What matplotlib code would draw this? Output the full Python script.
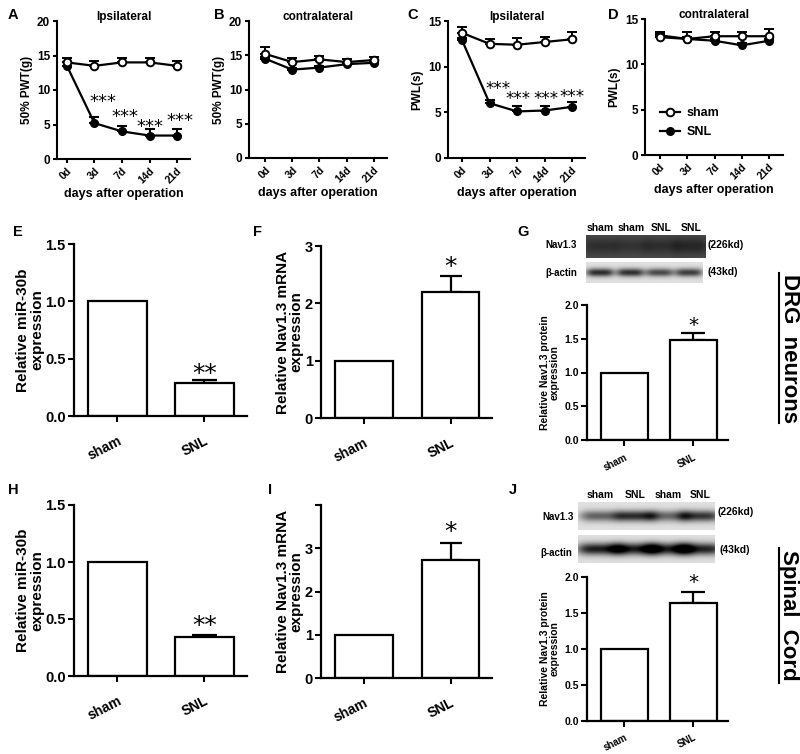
import numpy as np
import matplotlib
matplotlib.use('Agg')
import matplotlib.pyplot as plt
from matplotlib.lines import Line2D

plt.rcParams['font.family'] = ['Liberation Sans', 'DejaVu Sans']
plt.rcParams['font.weight'] = 'bold'
plt.rcParams['axes.labelweight'] = 'bold'

# ---------------- data ----------------
days = ['0d', '3d', '7d', '14d', '21d']

A_sham = [14.0, 13.5, 14.0, 14.0, 13.5]
A_sham_err = [0.7, 0.7, 0.7, 0.7, 0.7]
A_snl = [13.5, 5.2, 4.0, 3.4, 3.4]
A_snl_err = [0.5, 0.9, 0.8, 0.9, 0.9]

B_sham = [15.2, 14.0, 14.4, 14.0, 14.3]
B_sham_err = [1.0, 0.6, 0.5, 0.4, 0.5]
B_snl = [14.5, 12.9, 13.2, 13.7, 13.9]
B_snl_err = [0.3, 0.3, 0.3, 0.3, 0.3]

C_sham = [13.7, 12.5, 12.4, 12.7, 13.0]
C_sham_err = [0.6, 0.5, 0.7, 0.6, 0.8]
C_snl = [12.9, 6.0, 5.1, 5.2, 5.6]
C_snl_err = [0.2, 0.4, 0.6, 0.5, 0.5]

D_sham = [13.0, 12.8, 13.1, 13.1, 13.1]
D_sham_err = [0.6, 0.8, 0.5, 0.5, 0.8]
D_snl = [13.2, 12.8, 12.6, 12.1, 12.6]
D_snl_err = [0.2, 0.2, 0.2, 0.2, 0.2]

groups = ['sham', 'SNL']
E_vals = [1.0, 0.29]
E_err = [0.0, 0.025]
F_vals = [1.0, 2.2]
F_err = [0.0, 0.27]
G_vals = [1.0, 1.48]
G_err = [0.0, 0.11]
H_vals = [1.0, 0.34]
H_err = [0.0, 0.02]
I_vals = [1.0, 2.73]
I_err = [0.0, 0.40]
J_vals = [1.0, 1.64]
J_err = [0.0, 0.15]

G_lanes = ['sham', 'sham', 'SNL', 'SNL']
J_lanes = ['sham', 'SNL', 'sham', 'SNL']
# band darkness per lane (visual only)
G_nav_band = [0.12, 0.1, 0.12, 0.15]
G_act_band = [0.72, 0.7, 0.6, 0.65]
J_nav_band = [0.5, 0.72, 0.48, 0.68]
J_act_band = [0.78, 0.78, 0.76, 0.76]

# ---------------- figure ----------------
W, H = 800, 754
fig = plt.figure(figsize=(8, 7.54), dpi=100)


def ax_px(l, t, r, b):
    return fig.add_axes([l / W, 1 - b / H, (r - l) / W, (b - t) / H])


def ftext(x, y, s, **kw):
    fig.text(x / W, 1 - y / H, s, **kw)


def style(ax, lw=1.5):
    for s in ['top', 'right']:
        ax.spines[s].set_visible(False)
    for s in ['left', 'bottom']:
        ax.spines[s].set_linewidth(lw)


def line_panel(box, xlim, ylim, yticks, sham, sham_err, snl, snl_err,
               title, ylabel, stars=None, star_fs=13, legend=False):
    ax = ax_px(*box)
    x = np.arange(len(days))
    z = np.zeros(len(days))
    ax.errorbar(x, snl, yerr=[z, snl_err], fmt='-o', color='black', ms=5.5,
                lw=1.6, capsize=3.5, capthick=1.5, elinewidth=1.5, zorder=3)
    ax.errorbar(x, sham, yerr=[z, sham_err], fmt='-o', color='black', mfc='white',
                mec='black', ms=5.5, mew=1.4, lw=1.6, capsize=3.5, capthick=1.5,
                elinewidth=1.5, zorder=4)
    ax.set_xlim(*xlim)
    ax.set_ylim(*ylim)
    style(ax)
    ax.set_xticks(x)
    ax.set_xticklabels(days, rotation=45, ha='right', rotation_mode='anchor',
                       fontsize=7.5, fontweight='bold')
    ax.set_yticks(yticks)
    ax.set_yticklabels([str(v) for v in yticks], fontsize=8.5, fontweight='bold')
    ax.tick_params(width=1.5, length=3, pad=2)
    ax.text(0.5, 1.03, title, transform=ax.transAxes, ha='center', va='center',
            fontsize=8.5, fontweight='bold')
    ax.set_xlabel('days after operation', fontsize=9, fontweight='bold', labelpad=2)
    ax.set_ylabel(ylabel, fontsize=8.5, fontweight='bold', labelpad=3)
    if stars:
        for xi, yi in stars:
            ax.text(xi, yi, '***', ha='center', va='center', fontsize=star_fs,
                    fontweight='normal', family='DejaVu Sans')
    if legend:
        h = [Line2D([], [], color='black', lw=1.6, marker='o', ms=5.5, mfc='white',
                    mec='black', mew=1.4),
             Line2D([], [], color='black', lw=1.6, marker='o', ms=5.5)]
        leg = ax.legend(h, ['sham', 'SNL'], loc='lower left', bbox_to_anchor=(0.03, 0.04),
                        frameon=False, fontsize=9, handlelength=1.6,
                        handletextpad=0.5, labelspacing=0.55)
        for t in leg.get_texts():
            t.set_fontweight('bold')
    return ax


def bar_panel(box, xlim, ylim, yticks, yticklabels, vals, err, width, ylabel,
              fs_tick, fs_lab, fs_x, star, star_y, capsize, labelpad, xpad):
    ax = ax_px(*box)
    x = np.arange(len(groups))
    ax.bar(x, vals, width=width, color='white', edgecolor='black', linewidth=1.6,
           zorder=2)
    ax.errorbar(x[1:], vals[1:], yerr=[[0], err[1:]], fmt='none', ecolor='black',
                elinewidth=1.6, capsize=capsize, capthick=1.6, zorder=1)
    ax.set_xlim(*xlim)
    ax.set_ylim(*ylim)
    style(ax, 1.6)
    ax.set_xticks(x)
    ax.set_xticklabels(groups, rotation=27, ha='right', rotation_mode='anchor',
                       fontsize=fs_x, fontweight='bold')
    ax.tick_params(axis='x', pad=xpad)
    ax.set_yticks(yticks)
    ax.set_yticklabels(yticklabels, fontsize=fs_tick, fontweight='bold')
    ax.tick_params(width=1.5, length=4)
    ax.tick_params(axis='y', pad=2)
    ax.set_ylabel(ylabel, fontsize=fs_lab, fontweight='bold', labelpad=labelpad,
                  linespacing=1.0)
    ax.text(1, star_y, star, ha='center', va='center', fontsize=fs_lab + 7,
            fontweight='normal', family='DejaVu Sans')
    return ax


def blot(box, centers, dark, bg, thick, lane_w, ycen=0.5):
    ax = ax_px(*box)
    ny, nx = 60, 300
    yy = np.linspace(0, 1, ny)[:, None]
    xx = np.linspace(0, 1, nx)[None, :]
    img = np.full((ny, nx), bg)
    for c, d in zip(centers, dark):
        prof_x = np.exp(-((xx - c) / lane_w) ** 4)
        prof_y = np.exp(-((yy - ycen) / thick) ** 2)
        img = img - d * prof_x * prof_y
    img = np.clip(img, 0, 1)
    ax.imshow(img, cmap='gray', vmin=0, vmax=1, aspect='auto',
              interpolation='bilinear')
    ax.set_axis_off()
    return ax


# ---------------- top row line plots ----------------
line_panel((57, 21, 190, 159), (-0.36, 4.47), (0, 20), [0, 5, 10, 15, 20],
           A_sham, A_sham_err, A_snl, A_snl_err, 'Ipsilateral', '50% PWT(g)',
           stars=[(1.3, 8.2), (2.1, 6.1), (3.0, 4.7), (4.1, 5.5)])
line_panel((249, 21, 387, 158), (-0.59, 4.48), (0, 20), [0, 5, 10, 15, 20],
           B_sham, B_sham_err, B_snl, B_snl_err, 'contralateral', '50% PWT(g)')
line_panel((448, 21, 585, 158), (-0.51, 4.47), (0, 15), [0, 5, 10, 15],
           C_sham, C_sham_err, C_snl, C_snl_err, 'Ipsilateral', 'PWL(s)',
           stars=[(1.3, 7.6), (2.05, 6.5), (3.05, 6.5), (4.0, 6.7)], star_fs=12)
line_panel((645, 19, 783, 155), (-0.55, 4.51), (0, 15), [0, 5, 10, 15],
           D_sham, D_sham_err, D_snl, D_snl_err, 'contralateral', 'PWL(s)',
           legend=True)

# ---------------- bar plots ----------------
lab_mir = 'Relative miR-30b\nexpression'
lab_nav = 'Relative Nav1.3 mRNA\nexpression'
lab_prot = 'Relative Nav1.3 protein\nexpression'

bar_panel((74, 244, 247, 416), (-0.5, 1.49), (0, 1.5), [0, 0.5, 1.0, 1.5],
          ['0.0', '0.5', '1.0', '1.5'], E_vals, E_err, 0.68, lab_mir,
          10.5, 11, 10, '**', 0.37, 9, 0.5, 9)
bar_panel((321, 246, 492, 418), (-0.5, 1.48), (0, 3), [0, 1, 2, 3],
          ['0', '1', '2', '3'], F_vals, F_err, 0.67, lab_nav,
          10.5, 11, 10, '*', 2.63, 8, 0.5, 9)
bar_panel((587, 305, 728, 440), (-0.54, 1.5), (0, 2.0), [0, 0.5, 1.0, 1.5, 2.0],
          ['0.0', '0.5', '1.0', '1.5', '2.0'], G_vals, G_err, 0.68, lab_prot,
          7.5, 7.5, 7, '*', 1.70, 8.5, 3, 5)
bar_panel((74, 505, 247, 676), (-0.5, 1.49), (0, 1.5), [0, 0.5, 1.0, 1.5],
          ['0.0', '0.5', '1.0', '1.5'], H_vals, H_err, 0.68, lab_mir,
          10.5, 11, 10, '**', 0.44, 9, 0.5, 9)
bar_panel((321, 505, 492, 678), (-0.5, 1.48), (0, 4), [0, 1, 2, 3, 4],
          ['0', '1', '2', '3', ''], I_vals, I_err, 0.67, lab_nav,
          10.5, 11, 10, '*', 3.37, 8, 0.5, 9)
bar_panel((587, 577, 728, 721), (-0.54, 1.5), (0, 2.0), [0, 0.5, 1.0, 1.5, 2.0],
          ['0.0', '0.5', '1.0', '1.5', '2.0'], J_vals, J_err, 0.68, lab_prot,
          7.5, 7.5, 7, '*', 1.92, 8.5, 3, 4)

# ---------------- blots ----------------
g_centers = [0.12, 0.38, 0.63, 0.88]
j_centers = [0.16, 0.42, 0.66, 0.89]
blot((586, 235, 705, 258), g_centers, G_nav_band, 0.3, 0.35, 0.15)
blot((586, 262, 703, 283), g_centers, G_act_band, 0.88, 0.2, 0.12)
blot((578, 502, 715, 530), j_centers, J_nav_band, 0.88, 0.2, 0.15)
blot((578, 535, 715, 563), j_centers, J_act_band, 0.88, 0.22, 0.17)

for c, s in zip(g_centers, G_lanes):
    ftext(586 + c * 119, 228, s, ha='center', va='center', fontsize=7.5, fontweight='bold')
for c, s in zip(j_centers, J_lanes):
    ftext(578 + c * 137, 495, s, ha='center', va='center', fontsize=7.5, fontweight='bold')

ftext(545, 245, 'Nav1.3', ha='left', va='center', fontsize=7, fontweight='bold')
ftext(545, 273, 'β-actin', ha='left', va='center', fontsize=7, fontweight='bold')
ftext(707, 245, '(226kd)', ha='left', va='center', fontsize=7.5, fontweight='bold')
ftext(708, 272, '(43kd)', ha='left', va='center', fontsize=7.5, fontweight='bold')
ftext(542, 517, 'Nav1.3', ha='left', va='center', fontsize=7, fontweight='bold')
ftext(540, 553, 'β-actin', ha='left', va='center', fontsize=7, fontweight='bold')
ftext(718, 512, '(226kd)', ha='left', va='center', fontsize=7.5, fontweight='bold')
ftext(719, 550, '(43kd)', ha='left', va='center', fontsize=7.5, fontweight='bold')

# ---------------- side labels ----------------
ftext(789, 348, 'DRG  neurons', ha='center', va='center', rotation=-90,
      fontsize=16, fontweight='bold')
ftext(789, 615, 'Spinal  Cord', ha='center', va='center', rotation=-90,
      fontsize=16, fontweight='bold')
fig.add_artist(Line2D([779 / W, 779 / W], [1 - 273 / H, 1 - 423 / H], color='black', lw=1.5))
fig.add_artist(Line2D([779 / W, 779 / W], [1 - 548 / H, 1 - 683 / H], color='black', lw=1.5))

# ---------------- panel letters ----------------
for s, x, y in [('A', 13, 15), ('B', 219, 15), ('C', 413, 15), ('D', 613, 15),
                ('E', 18, 232), ('F', 258, 232), ('G', 523, 232),
                ('H', 13, 490), ('I', 270, 490), ('J', 513, 490)]:
    ftext(x, y, s, ha='center', va='center', fontsize=10.5, fontweight='bold')

fig.savefig('out.png', dpi=100, facecolor='white')
